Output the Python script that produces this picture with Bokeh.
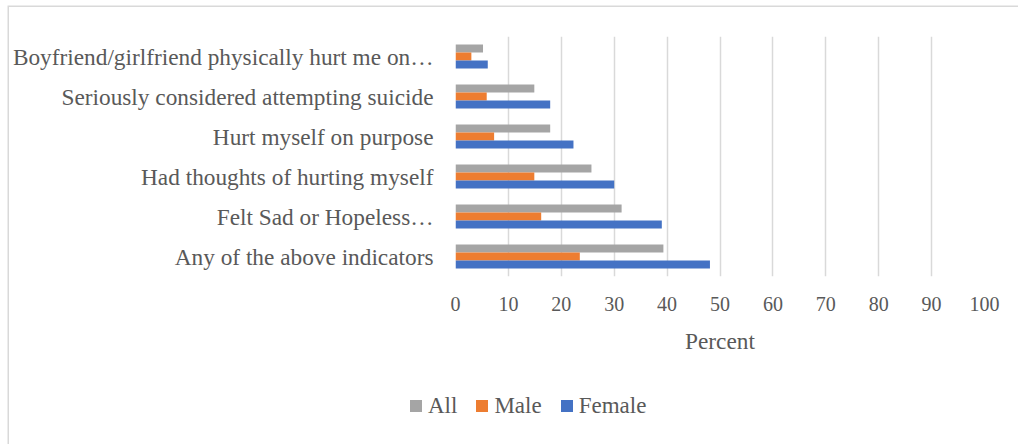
from bokeh.plotting import figure
from bokeh.layouts import column
from bokeh.models import (Range1d, FixedTicker, ColumnDataSource, Div)
from bokeh.embed import file_html
from bokeh.resources import INLINE

categories = [
    "Boyfriend/girlfriend physically hurt me on\u2026",
    "Seriously considered attempting suicide",
    "Hurt myself on purpose",
    "Had thoughts of hurting myself",
    "Felt Sad or Hopeless\u2026",
    "Any of the above indicators",
]
all_vals = [5.2, 14.9, 17.9, 25.7, 31.4, 39.3]
male_vals = [3.0, 5.9, 7.3, 14.9, 16.2, 23.5]
female_vals = [6.1, 17.9, 22.3, 30.0, 39.0, 48.1]
series_names = ["All", "Male", "Female"]
x_ticks = [0, 10, 20, 30, 40, 50, 60, 70, 80, 90, 100]
x_title = "Percent"

colors = {"All": "#A5A5A5", "Male": "#ED7D31", "Female": "#4472C4"}
TEXT = "#595959"
FONT = "Liberation Serif"

n = len(categories)
# category slot centre from the bottom (first category drawn at the top)
slot = [n - 1 - i + 0.5 for i in range(n)]
src = ColumnDataSource(dict(cat=categories, slot=slot, All=all_vals, Male=male_vals, Female=female_vals))

ML, MT = 9, 7  # outer chart border offset
W = 1018 - ML
MAIN_H = 377 - MT
LEG_H = 444 - 377
FRAME_LEFT = 455

p = figure(width=W, height=MAIN_H, output_backend="svg", toolbar_location=None,
           x_range=Range1d(0, 100), y_range=Range1d(0, n),
           min_border_left=FRAME_LEFT - ML, min_border_right=34, min_border_top=36 - MT,
           min_border_bottom=377 - 276)
p.outline_line_color = None
p.background_fill_color = "white"
p.border_fill_color = "white"

offsets = {"All": 0.2, "Male": 0.0, "Female": -0.2}
for s in series_names:
    src.data["y_" + s] = [v + offsets[s] for v in slot]
for s in series_names:
    p.hbar(y="y_" + s, left=0, right=s, height=0.2, source=src,
           fill_color=colors[s], line_color=None)

# x axis
xa = p.xaxis[0]
xa.ticker = FixedTicker(ticks=x_ticks)
xa.axis_line_color = None
xa.major_tick_line_color = None
xa.minor_tick_line_color = None
xa.major_tick_out = 0
xa.major_tick_in = 0
xa.major_label_standoff = 20
xa.major_label_text_font = FONT
xa.major_label_text_font_size = "20px"
xa.major_label_text_color = TEXT
xa.axis_label = x_title
xa.axis_label_text_font = FONT
xa.axis_label_text_font_size = "23.3px"
xa.axis_label_text_font_style = "normal"
xa.axis_label_text_color = TEXT
xa.axis_label_standoff = 14

p.xgrid.grid_line_color = "#D9D9D9"
p.xgrid.grid_line_width = 1.5
p.ygrid.visible = False

# category labels
ya = p.yaxis[0]
ya.ticker = FixedTicker(ticks=slot)
ya.major_label_overrides = {pos: name for pos, name in zip(slot, categories)}
ya.axis_line_color = None
ya.major_tick_line_color = None
ya.minor_tick_line_color = None
ya.major_tick_out = 0
ya.major_tick_in = 0
ya.major_label_standoff = 22
ya.major_label_text_font = FONT
ya.major_label_text_font_size = "23.3px"
ya.major_label_text_color = TEXT

# legend strip below the chart
item_html = []
for s in series_names:
    item_html.append(
        f'<span style="display:inline-block;width:12px;height:12px;background:{colors[s]};'
        f'margin-right:6px;"></span>'
        f'<span style="margin-right:19px;">{s}</span>'
    )
legend_div = Div(
    width=W, height=LEG_H,
    text=(f'<div style="padding-left:{405 - ML}px;padding-top:21px;height:26px;'
          f'display:flex;align-items:center;font-family:\'{FONT}\';font-size:23px;'
          f'line-height:26px;color:{TEXT};white-space:nowrap;">' + "".join(item_html) + '</div>'),
)

layout = column(p, legend_div, spacing=0)
layout.margin = (MT, 0, 0, ML)
layout.styles = {"box-shadow": "-1.5px -1.5px 0px 0px #D9D9D9"}

open("out.html", "w").write(file_html(layout, INLINE))
